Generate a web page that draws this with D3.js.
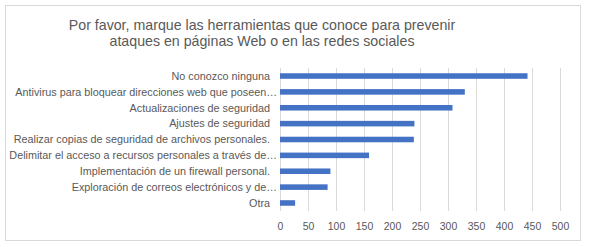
<!DOCTYPE html>
<html>
<head>
<meta charset="utf-8">
<script src="https://cdn.jsdelivr.net/npm/d3@7"></script>
<style>
  body { margin: 0; background: #fff; }
  text { font-family: "Liberation Sans", Arial, sans-serif; }
</style>
</head>
<body>
<div id="chart"></div>
<script>
const titleLines = [
    "Por favor, marque las herramientas que conoce para prevenir",
    "ataques en páginas Web o en las redes sociales"
];
const categories = [
    "No conozco ninguna",
    "Antivirus para bloquear direcciones web que poseen…",
    "Actualizaciones de seguridad",
    "Ajustes de seguridad",
    "Realizar copias de seguridad de archivos personales.",
    "Delimitar el acceso a recursos personales a través de…",
    "Implementación de un firewall personal.",
    "Exploración de correos electrónicos y de…",
    "Otra"
];
const values = [442, 330, 308, 240, 239, 159, 90, 85, 27];
const tickValues = [0, 50, 100, 150, 200, 250, 300, 350, 400, 450, 500];

const W = 589, H = 247;
const plot = { left: 280, right: 560, top: 68, bottom: 211 };

const svg = d3.select("#chart").append("svg")
    .attr("width", W)
    .attr("height", H);

// Chart frame
svg.append("rect")
    .attr("x", 5.5).attr("y", 5.5)
    .attr("width", 575).attr("height", 235)
    .attr("fill", "#fff")
    .attr("stroke", "#d9d9d9");

// Title
svg.append("g").selectAll("text")
    .data(titleLines)
    .join("text")
    .attr("x", 262)
    .attr("y", (d, i) => 30 + i * 15.5)
    .attr("text-anchor", "middle")
    .attr("font-size", 14.2)
    .attr("fill", "#595959")
    .text(d => d);

// Scales
const x = d3.scaleLinear().domain([0, 500]).range([plot.left, plot.right]);
const y = d3.scaleBand().domain(categories).range([plot.top, plot.bottom]).paddingInner(0.65).paddingOuter(0.33);

// Gridlines
svg.append("g").selectAll("line")
    .data(tickValues)
    .join("line")
    .attr("x1", d => Math.round(x(d)) + 0.5)
    .attr("x2", d => Math.round(x(d)) + 0.5)
    .attr("y1", plot.top)
    .attr("y2", plot.bottom)
    .attr("stroke", "#d9d9d9");

// Bars
svg.append("g").selectAll("rect")
    .data(values)
    .join("rect")
    .attr("x", x(0))
    .attr("y", (d, i) => y(categories[i]))
    .attr("width", d => x(d) - x(0))
    .attr("height", y.bandwidth())
    .attr("fill", "#4472c4");

// Category labels
svg.append("g").selectAll("text")
    .data(categories)
    .join("text")
    .attr("x", d => d.endsWith("…") ? 277 : 270)
    .attr("y", d => y(d) + y.bandwidth() / 2)
    .attr("dy", "0.35em")
    .attr("text-anchor", "end")
    .attr("font-size", 10.8)
    .attr("fill", "#595959")
    .text(d => d);

// X axis
const xAxis = d3.axisBottom(x).tickValues(tickValues).tickSize(0).tickPadding(0);
const gx = svg.append("g")
    .attr("transform", `translate(0,${plot.bottom})`)
    .call(xAxis);
gx.select(".domain").remove();
gx.selectAll("text")
    .attr("y", 15)
    .attr("dy", "0.35em")
    .attr("font-size", 10.5)
    .attr("font-family", "Liberation Sans, Arial, sans-serif")
    .attr("fill", "#595959");
</script>
</body>
</html>
